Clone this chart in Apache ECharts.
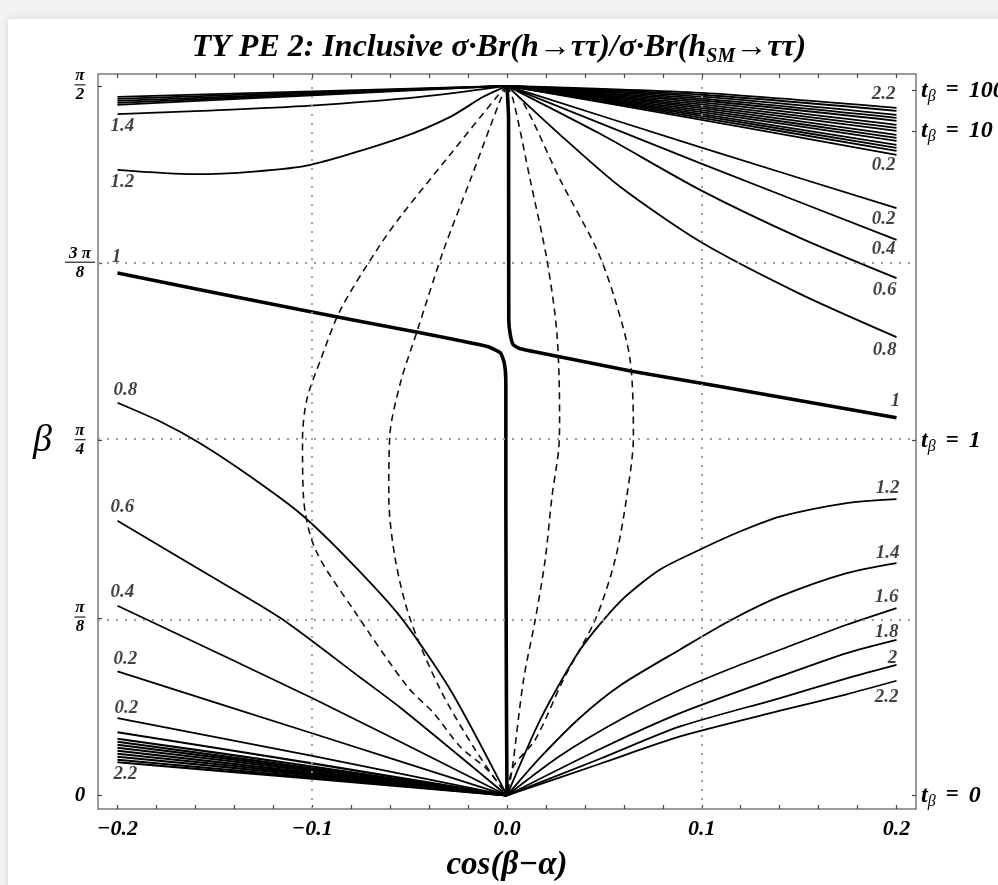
<!DOCTYPE html>
<html><head><meta charset="utf-8">
<script src="https://cdn.jsdelivr.net/npm/echarts@6/dist/echarts.min.js"></script>
<style>html,body{margin:0;padding:0;background:#fff}#c{width:998px;height:885px}</style>
</head><body><div id="c"></div>
<script>
const PI = Math.PI;
// ---------- axes / ticks ----------
const xLabelTicks = [-0.2, -0.1, 0, 0.1, 0.2];
const xMinorTicks = [-0.2,-0.18,-0.16,-0.14,-0.12,-0.1,-0.08,-0.06,-0.04,-0.02,0,0.02,0.04,0.06,0.08,0.1,0.12,0.14,0.16,0.18,0.2];
const yLeftTicks = [0, PI/8, PI/4, 3*PI/8, PI/2];
const yLeftNum = ['0', 'π', 'π', '3 π', 'π'];
const yLeftDen = ['', '8', '4', '8', '2'];
const tanBetaTicks = [0, 1, 10, 100];
const gridX = [-0.1, 0.1];
const gridY = [PI/8, PI/4, 3*PI/8];

// ---------- contour data: [cos(β−α), β] ----------
// upper-left (to top apex)
const ulBundle = [
  [[-0.2,1.5465],[-0.1,1.5587],[0,1.5708]],
  [[-0.2,1.5420],[-0.1,1.5564],[0,1.5708]],
  [[-0.2,1.5376],[-0.1,1.5542],[0,1.5708]],
  [[-0.2,1.5332],[-0.1,1.5520],[0,1.5708]],
  [[-0.2,1.5288],[-0.1,1.5498],[0,1.5708]]
];
const ul14 = [[-0.2,1.5082],[-0.157,1.5155],[-0.1008,1.5272],[-0.0445,1.5465],[0,1.5708]];
const ul12 = [[-0.2,1.3849],[-0.1609,1.3754],[-0.1301,1.3811],[-0.1008,1.3960],[-0.0546,1.4557],[-0.0291,1.5022],[-0.0122,1.5465],[0,1.5708]];
// contour "1" (thick)
const c1Left = [[-0.2,1.1563],[-0.106,1.0750],[-0.048,1.0270],[-0.0101,0.9938],[-0.0034,0.9799],[-0.0014,0.9577],[-0.0006,0.9188],[-0.0006,0.6544],[-0.0003,0.2121],[0,0]];
const c1Right = [[0,1.5708],[0.0008,1.5],[0.0009,1.0529],[0.0017,1.0197],[0.0032,0.9976],[0.0068,0.9887],[0.0135,0.9827],[0.0648,0.9385],[0.1094,0.9053],[0.2,0.8360]];
// lower-left (to bottom apex)
const ll08 = [[-0.2,0.8692],[-0.1778,0.8271],[-0.1572,0.7785],[-0.1316,0.7054],[-0.1060,0.6235],[-0.0804,0.5172],[-0.0547,0.3954],[-0.0291,0.2339],[0,0]];
const ll06 = [[-0.2,0.6080],[-0.1572,0.4985],[-0.1163,0.3927],[-0.0752,0.2605],[-0.0547,0.1941],[0,0]];
const ll04 = [[-0.2,0.4199],[-0.0993,0.2140],[0,0]];
const ll02a = [[-0.2,0.2745],[-0.0993,0.1366],[0,0]];
const ll02b = [[-0.2,0.1713],[-0.0993,0.0868],[0,0]];
const llBundle = [
  [[-0.2,0.1399],[-0.1,0.071],[0,0]],
  [[-0.2,0.1255],[-0.1,0.064],[0,0]],
  [[-0.2,0.1189],[-0.1,0.060],[0,0]],
  [[-0.2,0.1122],[-0.1,0.057],[0,0]],
  [[-0.2,0.1056],[-0.1,0.054],[0,0]],
  [[-0.2,0.0989],[-0.1,0.050],[0,0]],
  [[-0.2,0.0923],[-0.1,0.047],[0,0]],
  [[-0.2,0.0857],[-0.1,0.044],[0,0]],
  [[-0.2,0.0790],[-0.1,0.040],[0,0]],
  [[-0.2,0.0735],[-0.1,0.037],[0,0]]
];
// upper-right (from top apex)
const urBundle = [
  [[0,1.5708],[0.1,1.5553],[0.2,1.5221]],
  [[0,1.5708],[0.1,1.5511],[0.2,1.5155]],
  [[0,1.5708],[0.1,1.5468],[0.2,1.5066]],
  [[0,1.5708],[0.1,1.5425],[0.2,1.5000]],
  [[0,1.5708],[0.1,1.5383],[0.2,1.4934]],
  [[0,1.5708],[0.1,1.5341],[0.2,1.4845]],
  [[0,1.5708],[0.1,1.5297],[0.2,1.4779]],
  [[0,1.5708],[0.1,1.5255],[0.2,1.4712]],
  [[0,1.5708],[0.1,1.5213],[0.2,1.4624]],
  [[0,1.5708],[0.1,1.5168],[0.2,1.4557]],
  [[0,1.5708],[0.1,1.5126],[0.2,1.4491]],
  [[0,1.5708],[0.1,1.5084],[0.2,1.4402]],
  [[0,1.5708],[0.1,1.5042],[0.2,1.4336]],
  [[0,1.5708],[0.1,1.4998],[0.2,1.4270]],
  [[0,1.5708],[0.1,1.4956],[0.2,1.4181]]
];
const ur02 = [[0,1.5708],[0.0991,1.4351],[0.2,1.3001]];
const ur04 = [[0,1.5708],[0.0991,1.3997],[0.2,1.2300]];
const ur06 = [[0,1.5708],[0.0478,1.4646],[0.0991,1.3406],[0.1504,1.2344],[0.2,1.1452]];
const ur08 = [[0,1.5708],[0.0273,1.4624],[0.0581,1.3473],[0.0991,1.2262],[0.1504,1.1104],[0.2,1.0146]];
// lower-right (from bottom apex)
const lr12 = [[0,0],[0.0171,0.1680],[0.0376,0.3229],[0.0581,0.4292],[0.0786,0.5000],[0.1,0.5460],[0.1196,0.5842],[0.1402,0.6172],[0.1744,0.6472],[0.2,0.6560]];
const lr14 = [[0,0],[0.0171,0.0841],[0.0376,0.1726],[0.0581,0.2435],[0.0889,0.3232],[0.1146,0.3873],[0.1402,0.4405],[0.1744,0.4921],[0.2,0.5144]];
const lr16 = [[0,0],[0.0273,0.0879],[0.0581,0.1676],[0.0889,0.2340],[0.1146,0.2804],[0.1402,0.3225],[0.1744,0.3778],[0.2,0.4148]];
const lr18 = [[0,0],[0.0478,0.1029],[0.0889,0.1824],[0.1402,0.2634],[0.1744,0.3152],[0.2,0.3446]];
const lr20 = [[0,0],[0.0478,0.0812],[0.0889,0.1527],[0.1402,0.2156],[0.1744,0.2594],[0.2,0.2893]];
const lr22 = [[0,0],[0.0478,0.0702],[0.0889,0.1306],[0.1402,0.1875],[0.1744,0.2240],[0.2,0.2539]];
// dashed curves
const dashOL = [[0,1.5708],[-0.0051,1.5471],[-0.0301,1.4137],[-0.0547,1.2815],[-0.0668,1.2078],[-0.0855,1.0750],[-0.0957,0.9644],[-0.1028,0.8758],[-0.1050,0.7873],[-0.1045,0.6611],[-0.0983,0.5438],[-0.0788,0.4110],[-0.0511,0.2406],[-0.0378,0.1830],[-0.0240,0.1078],[-0.0101,0.0569],[0,0]];
const dashIL = [[0,1.5708],[-0.0034,1.5398],[-0.0188,1.3628],[-0.0325,1.2078],[-0.0462,1.0270],[-0.0547,0.9135],[-0.0602,0.7946],[-0.0607,0.6618],[-0.0573,0.5217],[-0.0496,0.3889],[-0.0342,0.2340],[-0.0163,0.1012],[0,0]];
const dashIR = [[0,1.5708],[0.0032,1.5398],[0.0119,1.3628],[0.0205,1.1857],[0.0256,1.0241],[0.0270,0.8389],[0.0265,0.7652],[0.0231,0.6618],[0.0196,0.5217],[0.0145,0.3889],[0.0085,0.2561],[0.0026,0.0569],[0,0]];
const dashOR = [[0,1.5708],[0.0084,1.5332],[0.0273,1.3628],[0.0462,1.2078],[0.0555,1.0972],[0.0632,0.9644],[0.0649,0.7946],[0.0615,0.6618],[0.0555,0.5217],[0.0453,0.3889],[0.0289,0.2561],[0.0145,0.1233],[0.0032,0.0635],[0,0]];

// contour labels: text, curve, which end (0 = first point, -1 = last point)
const contourLabels = [
  ['1.4', ul14, 0], ['1.2', ul12, 0], ['1', c1Left, 0], ['0.8', ll08, 0], ['0.6', ll06, 0],
  ['0.4', ll04, 0], ['0.2', ll02a, 0], ['0.2', ll02b, 0], ['2.2', llBundle[llBundle.length-1], 0],
  ['2.2', urBundle[0], -1], ['0.2', urBundle[urBundle.length-1], -1], ['0.2', ur02, -1], ['0.4', ur04, -1],
  ['0.6', ur06, -1], ['0.8', ur08, -1], ['1', c1Right, -1],
  ['1.2', lr12, -1], ['1.4', lr14, -1], ['1.6', lr16, -1], ['1.8', lr18, -1], ['2', lr20, -1], ['2.2', lr22, -1]
];
// label pixel offsets (style)
const labelOffsets = [
  [5,12],[5,12],[-1,-16],[8,-13],[5,-14],
  [5,-14],[8,-12],[9,-10],[8,12],
  [-13,-14],[-13,10],[-13,11],[-13,9],
  [-12,12],[-12,13],[-1,-17],
  [-9,-11],[-9,-10],[-10,-11],[-10,-8],[-4,-7],[-10,16]
];

// ---------- build ----------
const SERIF = '"Liberation Serif","DejaVu Serif",serif';
const series = [];
function solid(d, w) {
  series.push({type:'line', data:d, showSymbol:false, symbol:'none', smooth:0.25, silent:true,
    lineStyle:{color:'#000', width:w||1.8}, z:3});
}
function dashed(d) {
  series.push({type:'line', data:d, showSymbol:false, symbol:'none', smooth:0.3, silent:true,
    lineStyle:{color:'#111', width:1.6, type:[7,5]}, z:3});
}
// dotted grid lines
series.push({type:'line', data:[], silent:true, markLine:{silent:true, symbol:'none', animation:false,
  label:{show:false}, lineStyle:{type:[2,7], color:'#9a9a9a', width:1.8},
  data:[...gridX.map(v=>({xAxis:v})), ...gridY.map(v=>({yAxis:v}))]}});
ulBundle.forEach(d=>solid(d)); solid(ul14); solid(ul12);
llBundle.forEach(d=>solid(d, 2.2)); solid(ll08); solid(ll06); solid(ll04); solid(ll02a); solid(ll02b);
urBundle.forEach(d=>solid(d)); solid(ur02); solid(ur04); solid(ur06); solid(ur08);
solid(lr12); solid(lr14); solid(lr16); solid(lr18); solid(lr20); solid(lr22);
[dashOL, dashIL, dashIR, dashOR].forEach(dashed);
series.push({type:'line', data:c1Left, showSymbol:false, symbol:'none', smooth:0.15, silent:true, lineStyle:{color:'#000', width:3.6}, z:4});
series.push({type:'line', data:c1Right, showSymbol:false, symbol:'none', smooth:0.15, silent:true, lineStyle:{color:'#000', width:3.6}, z:4});
// labels
series.push({type:'scatter', symbolSize:0, silent:true, z:6,
  data: contourLabels.map((l,i)=>{
    const c = l[1]; const p = l[2] === 0 ? c[0] : c[c.length-1];
    return {value:p, label:{show:true, formatter:l[0], position:'inside', offset:labelOffsets[i],
      fontFamily:SERIF, fontStyle:'italic', fontWeight:'bold', fontSize:19, color:'#111'}};
  })
});

const tickStyle = {show:true, inside:true, length:4, lineStyle:{color:'#444', width:1.2}};
const chart = echarts.init(document.getElementById('c'));
chart.setOption({
  animation:false,
  backgroundColor:'#f2f2f2',
  graphic:[{type:'rect', left:8, top:19, shape:{width:1000, height:880}, style:{fill:'#fff', shadowBlur:8, shadowColor:'rgba(0,0,0,0.12)'}, z:-10}],
  title:{
    text:'{m|TY PE 2: Inclusive σ·Br(h→ττ)/σ·Br(h}{s|SM}{m|→ττ)}',
    left:'center', top:24,
    textStyle:{rich:{
      m:{fontFamily:SERIF, fontStyle:'italic', fontWeight:'bold', fontSize:32, color:'#000', lineHeight:38},
      s:{fontFamily:SERIF, fontStyle:'italic', fontWeight:'bold', fontSize:20, color:'#000', lineHeight:24, verticalAlign:'bottom'}
    }}
  },
  grid:{left:98, right:82, top:74, bottom:76, show:true, containLabel:false, outerBoundsMode:'none',
        borderColor:'#7a7a7a', borderWidth:1.5, backgroundColor:'#fff'},
  xAxis:[
    {type:'value', min:-0.21, max:0.21, position:'bottom', axisLine:{show:false, onZero:false}, splitLine:{show:false},
     axisTick:Object.assign({customValues:xMinorTicks}, tickStyle),
     axisLabel:{customValues:xLabelTicks, margin:9, color:'#000', fontFamily:SERIF, fontStyle:'italic', fontWeight:'bold', fontSize:22,
       formatter:v=> (v<0?'−':'') + Math.abs(v).toFixed(1)},
     name:'cos(β−α)', nameLocation:'middle', nameGap:40,
     nameTextStyle:{fontFamily:SERIF, fontStyle:'italic', fontWeight:'bold', fontSize:33, color:'#000'}},
    {type:'value', min:-0.21, max:0.21, position:'top', axisLine:{show:false, onZero:false}, splitLine:{show:false},
     axisTick:Object.assign({customValues:xMinorTicks}, tickStyle), axisLabel:{show:false}}
  ],
  yAxis:[
    {type:'value', min:-0.03, max:1.597, position:'left', axisLine:{show:false, onZero:false}, splitLine:{show:false},
     axisTick:Object.assign({customValues:yLeftTicks}, tickStyle),
     axisLabel:{customValues:yLeftTicks, margin:2,
       formatter:v=>{
         let i=0; yLeftTicks.forEach((t,k)=>{ if(Math.abs(t-v)<1e-6) i=k; });
         if(!yLeftDen[i]) return '{z|'+yLeftNum[i]+'}';
         return '{n|'+yLeftNum[i]+'}\n{'+(yLeftNum[i].length>1?'barw':'bar')+'| }\n{d|'+yLeftDen[i]+'}';
       },
       rich:{
         z:{fontFamily:SERIF, fontStyle:'italic', fontWeight:'bold', fontSize:21, color:'#000', width:32, align:'center'},
         n:{fontFamily:SERIF, fontStyle:'italic', fontWeight:'bold', fontSize:17, color:'#000', width:32, align:'center', lineHeight:15},
         d:{fontFamily:SERIF, fontStyle:'italic', fontWeight:'bold', fontSize:17, color:'#000', width:32, align:'center', lineHeight:17},
         bar:{width:11, height:1.3, lineHeight:3, fontSize:1, backgroundColor:'#333', align:'center'},
         barw:{width:30, height:1.3, lineHeight:3, fontSize:1, backgroundColor:'#333', align:'center'}
       }},
     name:'β', nameLocation:'middle', nameRotate:0, nameGap:46,
     nameTextStyle:{fontFamily:SERIF, fontStyle:'italic', fontSize:38, color:'#000'}},
    {type:'value', min:-0.03, max:1.597, position:'right', axisLine:{show:false, onZero:false}, splitLine:{show:false},
     axisTick:Object.assign({customValues:tanBetaTicks.map(t=>Math.atan(t))}, tickStyle),
     axisLabel:{customValues:tanBetaTicks.map(t=>Math.atan(t)), margin:5,
       formatter:v=>{
         let i=0; tanBetaTicks.forEach((t,k)=>{ if(Math.abs(Math.atan(t)-v)<1e-6) i=k; });
         return '{t|t}{b|β}{e|=}{t|'+tanBetaTicks[i]+'}';
       },
       rich:{
         t:{fontFamily:SERIF, fontStyle:'italic', fontWeight:'bold', fontSize:24, color:'#000', lineHeight:28},
         e:{fontFamily:SERIF, fontWeight:'bold', fontSize:23, color:'#000', lineHeight:28, padding:[0,10,0,10]},
         b:{fontFamily:SERIF, fontStyle:'italic', fontSize:16, color:'#000', lineHeight:19, verticalAlign:'bottom'}
       }}}
  ],
  series
});
</script></body></html>
